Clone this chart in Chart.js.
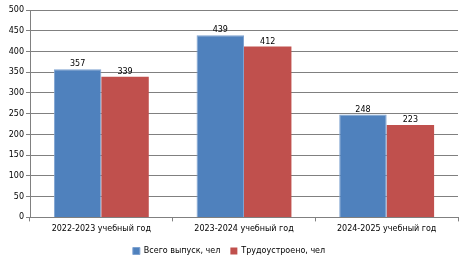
<!DOCTYPE html>
<html>
<head>
<meta charset="utf-8">
<script src="https://cdn.jsdelivr.net/npm/chart.js@4/dist/chart.umd.min.js"></script>
<style>
  html, body { margin: 0; padding: 0; background: #fff; }
  #wrap { width: 468px; height: 267px; }
</style>
</head>
<body>
<div id="wrap"><canvas id="grafico" width="468" height="267"></canvas></div>
<script>
const categorie = ['2022-2023 учебный год', '2023-2024 учебный год', '2024-2025 учебный год'];
const vypusk = [357, 439, 248];
const trudoustroeno = [339, 412, 223];
const nomiSerie = ['Всего выпуск, чел', 'Трудоустроено, чел'];

// etichette sopra le barre
const etichette = {
    id: 'etichette',
    afterDatasetsDraw(chart) {
        const ctx = chart.ctx;
        ctx.save();
        ctx.font = '8px "DejaVu Sans"';
        ctx.fillStyle = '#000';
        ctx.textAlign = 'center';
        ctx.textBaseline = 'bottom';
        chart.data.datasets.forEach((ds, i) => {
            chart.getDatasetMeta(i).data.forEach((bar, j) => {
                ctx.fillText(ds.data[j], bar.x, bar.y - 1);
            });
        });
        ctx.restore();
    }
};

const canvas = document.getElementById('grafico').getContext('2d');

const grafico = new Chart(canvas, {
    type: 'bar',
    data: {
        labels: categorie,
        datasets: [{
            label: nomiSerie[0],
            data: vypusk,
            backgroundColor: '#4F81BD',
            borderColor: '#7FA3D1',
            borderWidth: 1
        }, {
            label: nomiSerie[1],
            data: trudoustroeno,
            backgroundColor: '#C0504D',
            borderColor: '#C0504D',
            borderWidth: 0
        }]
    },
    options: {
        responsive: false,
        animation: false,
        layout: { padding: { left: 0, right: 10, top: 10, bottom: 2 } },
        datasets: { bar: { categoryPercentage: 0.665, barPercentage: 1.0 } },
        scales: {
            x: {
                grid: { drawOnChartArea: false, drawTicks: true, tickLength: 4, color: '#808080' },
                border: { color: '#808080' },
                ticks: { color: '#000', font: { family: 'DejaVu Sans', size: 8 }, padding: 3, maxRotation: 0 }
            },
            y: {
                min: 0,
                max: 500,
                afterFit(scale) { scale.width = 30; },
                grid: { color: '#808080', tickLength: 4 },
                border: { color: '#808080' },
                ticks: { stepSize: 50, color: '#000', font: { family: 'DejaVu Sans', size: 8 }, padding: 2 }
            }
        },
        plugins: {
            legend: {
                position: 'bottom',
                labels: { boxWidth: 7, boxHeight: 7, color: '#000', font: { family: 'DejaVu Sans', size: 8 }, padding: 10 }
            },
            tooltip: { enabled: false }
        }
    },
    plugins: [etichette]
});
</script>
</body>
</html>
